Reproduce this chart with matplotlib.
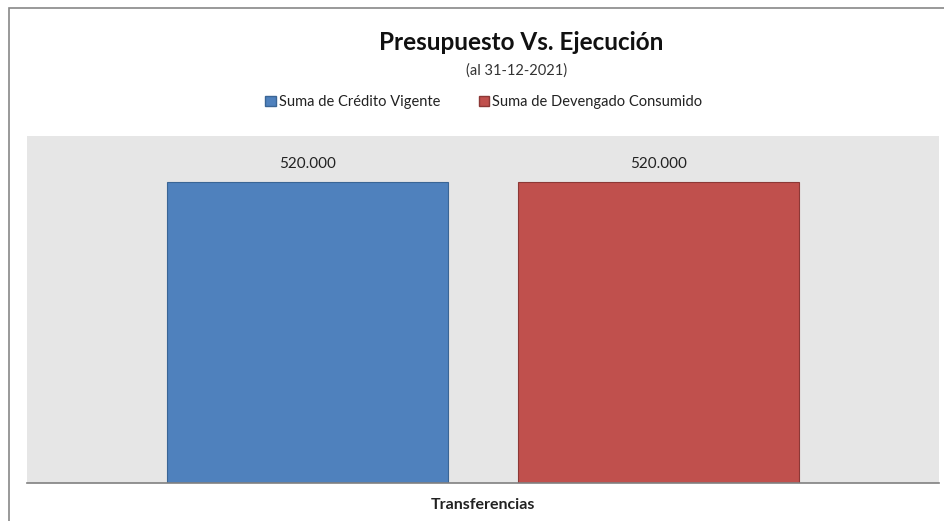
import matplotlib.pyplot as plt
from matplotlib.patches import Rectangle, Patch

plt.rcParams['font.family'] = ['Lato', 'DejaVu Sans']

categoria = ["Transferencias"]
series = ["Suma de Crédito Vigente", "Suma de Devengado Consumido"]
credito = [520]
devengado = [520]
etiquetas = ["520.000", "520.000"]

azul = "#4F81BD"
rojo = "#C0504D"

fig = plt.figure(figsize=(9.45, 5.21), dpi=100)
ax = fig.add_axes([27/945, 1 - 483/521, 912/945, 347/521])
ax.set_facecolor("#E6E6E6")

b1 = ax.bar(-0.192, credito, width=0.308, color=azul, edgecolor="#3A6595", linewidth=0.8)
b2 = ax.bar(0.192, devengado, width=0.308, color=rojo, edgecolor="#8C3836", linewidth=0.8)
ax.bar_label(b1, labels=[etiquetas[0]], padding=8, fontsize=11, color="#222222")
ax.bar_label(b2, labels=[etiquetas[1]], padding=8, fontsize=11, color="#222222")

ax.set_xlim(-0.5, 0.5)
ax.set_ylim(0, 600)
ax.set_xticks([0])
ax.set_xticklabels(categoria, fontsize=11.5, fontweight="bold", color="#222222")
ax.tick_params(axis="x", length=0, pad=11)
ax.set_yticks([])
for s in ["top", "left", "right"]:
    ax.spines[s].set_visible(False)
ax.spines["bottom"].set_color("#808080")
ax.spines["bottom"].set_linewidth(1.2)

# marco exterior
fig.patches.append(Rectangle((9/945, -0.1), 1.2, 1 - 8/521 + 0.1, transform=fig.transFigure,
                             fill=False, edgecolor="#888888", linewidth=1.2))

fig.text(521/945, 1 - 42/521, "Presupuesto Vs. Ejecución", ha="center", va="center",
         fontsize=17.5, fontweight="bold", color="#111111")
fig.text(517/945, 1 - 71/521, "(al 31-12-2021)", ha="center", va="center", fontsize=10.5, color="#333333")

handles = [Patch(facecolor=azul, edgecolor="#3A6595"), Patch(facecolor=rojo, edgecolor="#8C3836")]
fig.legend(handles, series, loc="center", bbox_to_anchor=(484/945, 1 - 102/521), ncol=2,
           frameon=False, fontsize=10.5, handlelength=0.7, handleheight=0.7,
           handletextpad=0.25, columnspacing=2.6,
           labelcolor="#222222")

fig.savefig("out.png", dpi=100)
